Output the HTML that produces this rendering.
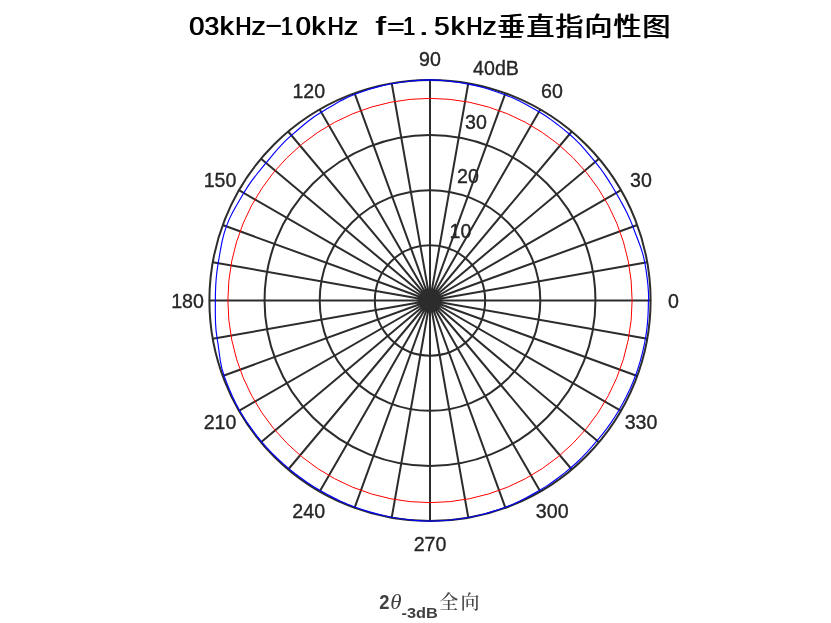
<!DOCTYPE html>
<html lang="zh"><head><meta charset="utf-8"><title>03kHz-10kHz f=1.5kHz垂直指向性图</title>
<style>
html,body{margin:0;padding:0;background:#fff;}
body{width:831px;height:623px;position:relative;overflow:hidden;font-family:"Liberation Sans","Noto Sans CJK SC",sans-serif;}
svg{position:absolute;left:0;top:0;}
.tk text{font-family:"Liberation Sans",sans-serif;font-size:21px;fill:#262626;stroke:#262626;stroke-width:0.35px;text-anchor:middle;}
.ttl{fill:#000;text-anchor:middle;}
.ttl .l{font-family:"Liberation Sans","Noto Sans CJK SC",sans-serif;font-size:25.8px;text-anchor:start;}
.ttl .c{font-family:"Liberation Sans","Noto Sans CJK SC",sans-serif;font-size:25.6px;font-weight:400;}
.xl{fill:#404040;font-family:"Liberation Sans","Noto Sans CJK SC",sans-serif;font-weight:bold;font-size:21px;}
</style></head><body>
<svg width="831" height="623" viewBox="0 0 831 623">
<path d="M430.00 300.50L650.60 300.50M430.00 300.50L647.25 262.19M430.00 300.50L637.30 225.05M430.00 300.50L621.05 190.20M430.00 300.50L598.99 158.70M430.00 300.50L571.80 131.51M430.00 300.50L540.30 109.45M430.00 300.50L505.45 93.20M430.00 300.50L468.31 83.25M430.00 300.50L430.00 79.90M430.00 300.50L391.69 83.25M430.00 300.50L354.55 93.20M430.00 300.50L319.70 109.45M430.00 300.50L288.20 131.51M430.00 300.50L261.01 158.70M430.00 300.50L238.95 190.20M430.00 300.50L222.70 225.05M430.00 300.50L212.75 262.19M430.00 300.50L209.40 300.50M430.00 300.50L212.75 338.81M430.00 300.50L222.70 375.95M430.00 300.50L238.95 410.80M430.00 300.50L261.01 442.30M430.00 300.50L288.20 469.49M430.00 300.50L319.70 491.55M430.00 300.50L354.55 507.80M430.00 300.50L391.69 517.75M430.00 300.50L430.00 521.10M430.00 300.50L468.31 517.75M430.00 300.50L505.45 507.80M430.00 300.50L540.30 491.55M430.00 300.50L571.80 469.49M430.00 300.50L598.99 442.30M430.00 300.50L621.05 410.80M430.00 300.50L637.30 375.95M430.00 300.50L647.25 338.81" stroke="#2c2c2c" stroke-width="2" fill="none"/>
<circle cx="430.0" cy="300.5" r="55.15" stroke="#2c2c2c" stroke-width="2" fill="none"/>
<circle cx="430.0" cy="300.5" r="110.30" stroke="#2c2c2c" stroke-width="2" fill="none"/>
<circle cx="430.0" cy="300.5" r="165.45" stroke="#2c2c2c" stroke-width="2" fill="none"/>
<circle cx="430.0" cy="300.5" r="220.60" stroke="#2c2c2c" stroke-width="2" fill="none"/>
<circle cx="430.0" cy="300.5" r="202.12" stroke="#ff0000" stroke-width="1" fill="none"/>
<polyline points="648.67,300.50 648.48,292.87 647.95,285.26 647.11,277.68 646.05,270.14 644.80,262.62 643.15,255.19 640.90,247.92 638.28,240.78 635.55,233.71 632.89,226.65 630.10,219.65 626.93,212.82 623.48,206.14 619.85,199.56 616.13,193.04 612.32,186.57 608.38,180.18 604.25,173.90 599.87,167.78 595.19,161.89 590.35,156.12 585.47,150.36 580.45,144.71 575.16,139.29 569.53,134.21 563.69,129.39 557.75,124.67 551.67,120.12 545.40,115.82 538.92,111.84 532.32,108.06 525.66,104.36 518.90,100.83 511.98,97.59 504.88,94.76 497.68,92.20 490.43,89.76 483.10,87.53 475.68,85.61 468.16,84.07 460.60,82.79 453.00,81.65 445.37,80.72 437.70,80.11 430.00,79.90 422.30,80.09 414.63,80.63 406.98,81.47 399.37,82.54 391.79,83.79 384.26,85.31 376.81,87.17 369.45,89.32 362.16,91.70 354.93,94.24 347.85,97.17 341.01,100.62 334.36,104.42 327.82,108.33 321.27,112.18 314.86,116.23 308.75,120.74 302.88,125.54 297.13,130.44 291.39,135.31 285.82,140.37 280.60,145.80 275.66,151.46 270.86,157.21 266.08,162.96 261.30,168.69 256.58,174.50 252.00,180.44 247.69,186.58 243.73,192.96 239.95,199.45 236.17,205.96 232.52,212.58 229.19,219.37 226.33,226.37 224.02,233.57 222.21,240.92 220.75,248.33 219.46,255.75 218.18,263.15 217.05,270.57 216.24,278.03 215.73,285.52 215.44,293.01 215.36,300.50 215.34,308.00 215.35,315.51 215.53,323.04 216.06,330.57 217.10,338.04 218.25,345.51 219.22,353.05 220.28,360.64 221.78,368.15 224.00,375.48 226.68,382.65 229.52,389.76 232.58,396.79 235.91,403.70 239.58,410.44 243.54,417.01 247.74,423.44 252.17,429.70 256.81,435.81 261.64,441.77 266.70,447.54 271.98,453.10 277.46,458.46 283.11,463.64 288.91,468.64 294.86,473.47 300.98,478.08 307.26,482.47 313.68,486.64 320.25,490.59 326.94,494.33 333.74,497.87 340.65,501.19 347.68,504.25 354.83,507.02 362.08,509.54 369.40,511.85 376.79,513.92 384.25,515.71 391.79,517.21 399.37,518.46 406.98,519.53 414.63,520.37 422.30,520.91 430.00,521.10 437.70,520.94 445.38,520.47 453.04,519.71 460.67,518.71 468.26,517.48 475.80,515.98 483.28,514.19 490.68,512.12 498.01,509.80 505.26,507.28 512.40,504.45 519.39,501.26 526.23,497.79 532.96,494.13 539.61,490.35 546.14,486.37 552.48,482.08 558.64,477.56 564.66,472.86 570.56,468.01 576.28,462.96 581.77,457.66 587.04,452.15 592.13,446.48 597.09,440.70 601.91,434.81 606.57,428.79 611.04,422.61 615.27,416.27 619.23,409.75 622.95,403.09 626.48,396.33 629.78,389.45 632.82,382.45 635.59,375.33 638.07,368.11 640.30,360.80 642.28,353.43 644.00,345.99 645.46,338.49 646.61,330.94 647.45,323.35 648.00,315.74 648.30,308.12 648.39,300.50" stroke="#0000ff" stroke-width="1.15" fill="none"/>
<g class="tk">
<text transform="translate(673.5,308.0) scale(0.935,1)">0</text>
<text transform="translate(641.0,186.8) scale(0.935,1)">30</text>
<text transform="translate(552.0,98.0) scale(0.935,1)">60</text>
<text transform="translate(430.0,65.5) scale(0.935,1)">90</text>
<text transform="translate(308.8,98.0) scale(0.935,1)">120</text>
<text transform="translate(220.0,186.8) scale(0.935,1)">150</text>
<text transform="translate(187.5,308.0) scale(0.935,1)">180</text>
<text transform="translate(220.0,429.2) scale(0.935,1)">210</text>
<text transform="translate(308.7,518.0) scale(0.935,1)">240</text>
<text transform="translate(430.0,550.5) scale(0.935,1)">270</text>
<text transform="translate(552.2,518.0) scale(0.935,1)">300</text>
<text transform="translate(641.0,429.3) scale(0.935,1)">330</text>
<text transform="translate(460.5,237.8) scale(0.935,1)">10</text>
<text transform="translate(468,182.8) scale(0.935,1)">20</text>
<text transform="translate(476,128.5) scale(0.935,1)">30</text>
<text transform="translate(496,74.5) scale(0.935,1)">40dB</text>
</g>
<defs><filter id="sb" x="-2%" y="-20%" width="104%" height="140%" color-interpolation-filters="sRGB"><feOffset dx="0.8" dy="0" result="o"/><feMerge><feMergeNode in="SourceGraphic"/><feMergeNode in="o"/></feMerge></filter></defs>
<g class="ttl" filter="url(#sb)" transform="translate(-0.4,0)">
<text class="l" xml:space="preserve" y="34.8" aria-label="03kHz-10kHz f=1.5kHz"><tspan x="189.24" textLength="15.12" lengthAdjust="spacingAndGlyphs">0</tspan><tspan x="204.45" textLength="14.66" lengthAdjust="spacingAndGlyphs">3</tspan><tspan x="219.64" textLength="14.17" lengthAdjust="spacingAndGlyphs">k</tspan><tspan x="235.34" textLength="15.90" lengthAdjust="spacingAndGlyphs">H</tspan><tspan x="251.45" textLength="14.16" lengthAdjust="spacingAndGlyphs">z</tspan><tspan x="264.60" y="33.2" textLength="18.00" lengthAdjust="spacingAndGlyphs">-</tspan><tspan x="280.97" y="34.8" textLength="11.87" lengthAdjust="spacingAndGlyphs">1</tspan><tspan x="295.54" textLength="15.12" lengthAdjust="spacingAndGlyphs">0</tspan><tspan x="311.44" textLength="14.17" lengthAdjust="spacingAndGlyphs">k</tspan><tspan x="327.74" textLength="15.90" lengthAdjust="spacingAndGlyphs">H</tspan><tspan x="343.85" textLength="14.16" lengthAdjust="spacingAndGlyphs">z</tspan><tspan x="362.6"> </tspan><tspan x="375.69" textLength="10.06" lengthAdjust="spacingAndGlyphs">f</tspan><tspan x="387.25" textLength="17.31" lengthAdjust="spacingAndGlyphs">=</tspan><tspan x="403.27" textLength="11.87" lengthAdjust="spacingAndGlyphs">1</tspan><tspan x="418.79" textLength="9.63" lengthAdjust="spacingAndGlyphs">.</tspan><tspan x="434.20" textLength="15.25" lengthAdjust="spacingAndGlyphs">5</tspan><tspan x="450.64" textLength="14.17" lengthAdjust="spacingAndGlyphs">k</tspan><tspan x="466.34" textLength="15.90" lengthAdjust="spacingAndGlyphs">H</tspan><tspan x="482.45" textLength="14.16" lengthAdjust="spacingAndGlyphs">z</tspan></text>
<text class="c" transform="scale(1.09,1)" x="469.08 495.69 522.29 548.90 575.50 602.11" y="36">垂直指向性图</text>
</g>
<text class="xl" y="608.7"><tspan x="379.3" textLength="10.2" lengthAdjust="spacingAndGlyphs">2</tspan><tspan x="390.3" font-family="Liberation Serif, serif" font-style="italic" font-weight="normal" font-size="21.5" textLength="11.3" lengthAdjust="spacingAndGlyphs">θ</tspan><tspan x="401.6" y="618" font-size="14.7" textLength="36.3" lengthAdjust="spacingAndGlyphs">-3dB</tspan><tspan x="439.3 460.6" y="608.6" font-family="Liberation Serif, Noto Serif CJK SC, serif" font-weight="500" font-size="19">全向</tspan></text>
</svg>
</body></html>
